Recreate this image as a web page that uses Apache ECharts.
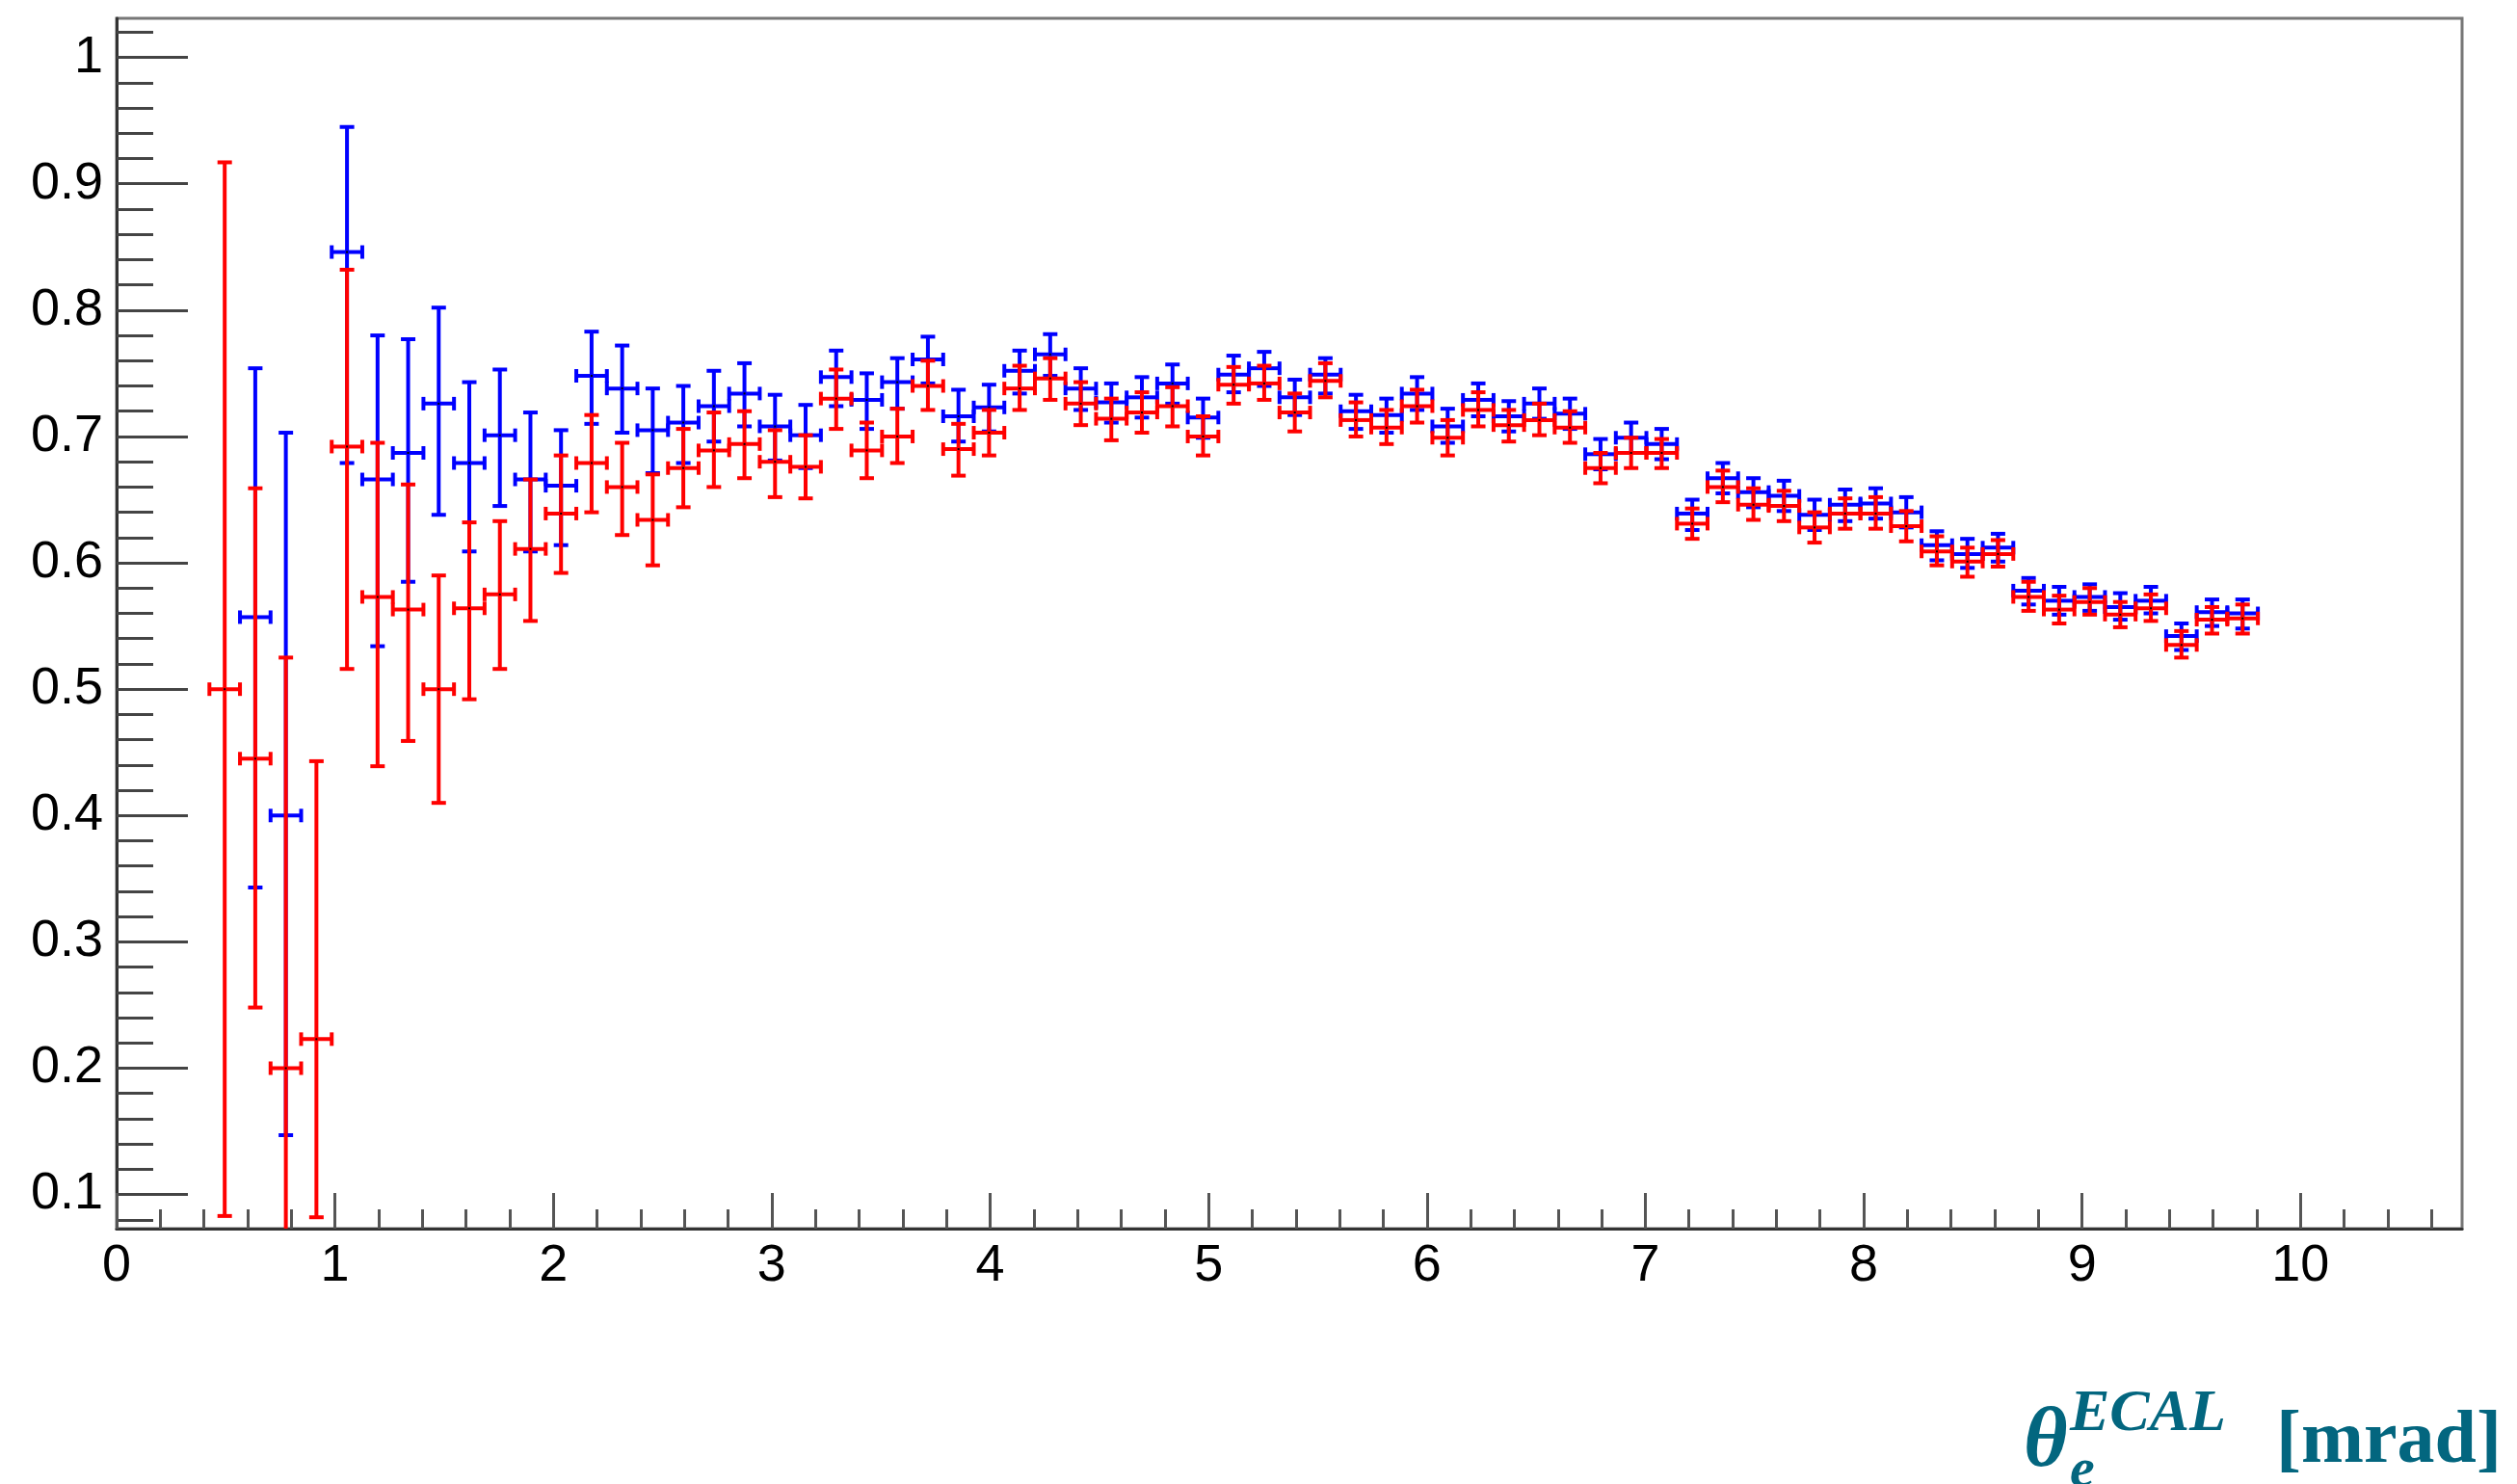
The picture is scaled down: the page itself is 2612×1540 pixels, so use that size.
<!DOCTYPE html>
<html lang="en">
<head>
    <meta charset="UTF-8">
    <title>theta_e ECAL</title>
    <script type="text/javascript" src="https://cdn.jsdelivr.net/npm/echarts@6.0.0/dist/echarts.min.js"></script>
    <style>
        html, body { margin: 0; padding: 0; background: #fff; }
        #chart { width: 2612px; height: 1540px; }
    </style>
</head>
<body>
<div id="chart"></div>
<script type="text/javascript">
    // bin centres [mrad]
    var thetaBins = [
        0.495, 0.635, 0.775, 0.915, 1.055, 1.195, 1.335, 1.475, 1.615, 1.755,
        1.895, 2.035, 2.175, 2.315, 2.455, 2.595, 2.735, 2.875, 3.015, 3.155,
        3.295, 3.435, 3.575, 3.715, 3.855, 3.995, 4.135, 4.275, 4.415, 4.555,
        4.695, 4.835, 4.975, 5.115, 5.255, 5.395, 5.535, 5.675, 5.815, 5.955,
        6.095, 6.235, 6.375, 6.515, 6.655, 6.795, 6.935, 7.075, 7.215, 7.355,
        7.495, 7.635, 7.775, 7.915, 8.055, 8.195, 8.335, 8.475, 8.615, 8.755,
        8.895, 9.035, 9.175, 9.315, 9.455, 9.595, 9.735
    ];
    var binHalfWidth = 0.07;

    // blue
    var blueVal = [
        null, 0.557, 0.400, null, 0.846, 0.666, 0.687, 0.726, 0.679, 0.701,
        0.666, 0.661, 0.748, 0.738, 0.705, 0.711, 0.724, 0.734, 0.708, 0.701,
        0.747, 0.729, 0.743, 0.761, 0.716, 0.723, 0.752, 0.765, 0.738, 0.727,
        0.731, 0.742, 0.715, 0.749, 0.754, 0.731, 0.749, 0.720, 0.717, 0.734,
        0.708, 0.729, 0.716, 0.726, 0.718, 0.686, 0.699, 0.694, 0.639, 0.667,
        0.656, 0.653, 0.638, 0.646, 0.647, 0.640, 0.614, 0.607, 0.612, 0.578,
        0.570, 0.573, 0.565, 0.570, 0.542, 0.561, 0.560
    ];
    var blueErrUp = [
        null, 0.197, 0.303, null, 0.099, 0.114, 0.090, 0.076, 0.064, 0.052,
        0.053, 0.044, 0.035, 0.034, 0.033, 0.029, 0.028, 0.024, 0.025, 0.024,
        0.021, 0.021, 0.019, 0.018, 0.021, 0.018, 0.016, 0.016, 0.016, 0.015,
        0.016, 0.015, 0.015, 0.015, 0.013, 0.014, 0.013, 0.013, 0.013, 0.013,
        0.014, 0.013, 0.012, 0.012, 0.012, 0.012, 0.012, 0.012, 0.011, 0.012,
        0.011, 0.012, 0.012, 0.012, 0.012, 0.012, 0.011, 0.012, 0.011, 0.010,
        0.011, 0.010, 0.011, 0.011, 0.010, 0.010, 0.011
    ];
    var blueErrDown = [
        null, 0.214, 0.253, null, 0.167, 0.132, 0.102, 0.088, 0.070, 0.056,
        0.057, 0.047, 0.038, 0.035, 0.034, 0.032, 0.028, 0.026, 0.027, 0.026,
        0.023, 0.023, 0.021, 0.019, 0.020, 0.019, 0.018, 0.017, 0.017, 0.016,
        0.016, 0.016, 0.016, 0.014, 0.014, 0.014, 0.015, 0.014, 0.014, 0.013,
        0.013, 0.013, 0.012, 0.012, 0.012, 0.012, 0.012, 0.012, 0.013, 0.012,
        0.012, 0.012, 0.012, 0.013, 0.012, 0.012, 0.012, 0.011, 0.011, 0.011,
        0.011, 0.011, 0.010, 0.010, 0.011, 0.011, 0.012
    ];

    // red
    var redVal = [
        0.500, 0.445, 0.200, 0.223, 0.692, 0.573, 0.563, 0.500, 0.564, 0.575,
        0.611, 0.639, 0.679, 0.660, 0.634, 0.675, 0.689, 0.694, 0.680, 0.676,
        0.730, 0.689, 0.700, 0.740, 0.690, 0.703, 0.738, 0.746, 0.726, 0.714,
        0.719, 0.724, 0.700, 0.741, 0.742, 0.719, 0.744, 0.713, 0.707, 0.724,
        0.699, 0.721, 0.709, 0.713, 0.707, 0.675, 0.687, 0.687, 0.631, 0.660,
        0.646, 0.645, 0.628, 0.639, 0.639, 0.629, 0.609, 0.601, 0.607, 0.573,
        0.563, 0.569, 0.559, 0.564, 0.535, 0.555, 0.556
    ];
    var redErrUp = [
        0.417, 0.214, 0.325, 0.220, 0.140, 0.122, 0.099, 0.090, 0.068, 0.058,
        0.055, 0.046, 0.038, 0.035, 0.036, 0.031, 0.030, 0.026, 0.025, 0.025,
        0.023, 0.022, 0.022, 0.020, 0.020, 0.018, 0.018, 0.016, 0.017, 0.016,
        0.016, 0.015, 0.016, 0.014, 0.014, 0.015, 0.014, 0.014, 0.014, 0.013,
        0.014, 0.014, 0.012, 0.013, 0.013, 0.012, 0.012, 0.011, 0.012, 0.013,
        0.013, 0.012, 0.012, 0.012, 0.013, 0.012, 0.012, 0.011, 0.011, 0.012,
        0.011, 0.011, 0.010, 0.011, 0.011, 0.010, 0.011
    ];
    var redErrDown = [
        0.417, 0.197, 0.170, 0.141, 0.176, 0.134, 0.104, 0.090, 0.072, 0.059,
        0.057, 0.047, 0.039, 0.038, 0.036, 0.031, 0.029, 0.027, 0.028, 0.025,
        0.024, 0.022, 0.021, 0.019, 0.021, 0.018, 0.017, 0.017, 0.017, 0.017,
        0.016, 0.016, 0.015, 0.015, 0.013, 0.015, 0.013, 0.013, 0.013, 0.013,
        0.014, 0.013, 0.013, 0.012, 0.012, 0.012, 0.012, 0.012, 0.012, 0.012,
        0.012, 0.012, 0.012, 0.012, 0.012, 0.012, 0.011, 0.012, 0.010, 0.011,
        0.011, 0.010, 0.010, 0.010, 0.010, 0.011, 0.012
    ];

    // axes
    var xMin = 0, xMax = 10.74;
    var yMin = 0.073, yMax = 1.031;
    var xMajorTicks = [0, 1, 2, 3, 4, 5, 6, 7, 8, 9, 10];
    var yMajorTicks = [0.1, 0.2, 0.3, 0.4, 0.5, 0.6, 0.7, 0.8, 0.9, 1];

    var xMinorTicks = [];
    for (var i = 1; i <= 53; i++) {
        if (i % 5 !== 0) xMinorTicks.push(Math.round(i * 20) / 100);
    }
    var yMinorTicks = [];
    for (var j = 4; j <= 51; j++) {
        if (j % 5 !== 0) yMinorTicks.push(Math.round(j * 2) / 100);
    }

    function buildPoints(vals, up, down) {
        var out = [];
        for (var k = 0; k < thetaBins.length; k++) {
            if (vals[k] === null) continue;
            out.push([thetaBins[k], vals[k], vals[k] - down[k], vals[k] + up[k]]);
        }
        return out;
    }

    function errorBars(color) {
        return function (params, api) {
            var x = api.value(0), y = api.value(1), lo = api.value(2), hi = api.value(3);
            var c = api.coord([x, y]);
            var top = api.coord([x, Math.min(hi, yMax)]);
            var bot = api.coord([x, Math.max(lo, yMin)]);
            var l = api.coord([x - binHalfWidth, y]);
            var r = api.coord([x + binHalfWidth, y]);
            var st = {stroke: color, lineWidth: 4};
            var capW = 7.5, capH = 7;
            var kids = [
                {type: 'line', shape: {x1: c[0], y1: top[1], x2: c[0], y2: bot[1]}, style: st},
                {type: 'line', shape: {x1: l[0], y1: c[1], x2: r[0], y2: c[1]}, style: st},
                {type: 'line', shape: {x1: l[0], y1: c[1] - capH, x2: l[0], y2: c[1] + capH}, style: st},
                {type: 'line', shape: {x1: r[0], y1: c[1] - capH, x2: r[0], y2: c[1] + capH}, style: st}
            ];
            if (hi <= yMax) {
                kids.push({type: 'line', shape: {x1: c[0] - capW, y1: top[1], x2: c[0] + capW, y2: top[1]}, style: st});
            }
            if (lo >= yMin) {
                kids.push({type: 'line', shape: {x1: c[0] - capW, y1: bot[1], x2: c[0] + capW, y2: bot[1]}, style: st});
            }
            kids.push({type: 'rect', shape: {x: c[0] - 1, y: c[1] - 1, width: 2, height: 2}, style: {fill: '#000'}});
            return {type: 'group', children: kids};
        };
    }

    var teal = '#03667f';
    var chart = echarts.init(document.getElementById('chart'), null, {renderer: 'canvas'});
    var option = {
        animation: false,
        backgroundColor: '#ffffff',
        grid: {
            left: 121, right: 57, top: 19, bottom: 265,
            show: true, borderColor: '#777777', borderWidth: 3
        },
        xAxis: [{
            type: 'value', min: xMin, max: xMax, position: 'bottom',
            axisLine: {show: true, lineStyle: {color: '#333333', width: 3}},
            axisTick: {show: true, inside: true, length: 37, customValues: xMajorTicks,
                lineStyle: {color: '#555555', width: 3}},
            axisLabel: {show: true, customValues: xMajorTicks, margin: 12,
                fontFamily: 'Liberation Sans', fontSize: 54, color: '#000',
                formatter: function (v) { return String(Math.round(v)); }},
            splitLine: {show: false}
        }, {
            type: 'value', min: xMin, max: xMax, position: 'bottom',
            axisLine: {show: false},
            axisTick: {show: true, inside: true, length: 20, customValues: xMinorTicks,
                lineStyle: {color: '#555555', width: 3}},
            axisLabel: {show: false},
            splitLine: {show: false}
        }],
        yAxis: [{
            type: 'value', min: yMin, max: yMax, position: 'left',
            axisLine: {show: true, lineStyle: {color: '#333333', width: 3}},
            axisTick: {show: true, inside: true, length: 74, customValues: yMajorTicks,
                lineStyle: {color: '#444444', width: 3}},
            axisLabel: {show: true, customValues: yMajorTicks, margin: 14,
                fontFamily: 'Liberation Sans', fontSize: 54, color: '#000',
                formatter: function (v) { return String(Math.round(v * 10) / 10); }},
            splitLine: {show: false}
        }, {
            type: 'value', min: yMin, max: yMax, position: 'left',
            axisLine: {show: false},
            axisTick: {show: true, inside: true, length: 38, customValues: yMinorTicks,
                lineStyle: {color: '#444444', width: 3}},
            axisLabel: {show: false},
            splitLine: {show: false}
        }],
        series: [{
            name: 'blue', type: 'custom', xAxisIndex: 0, yAxisIndex: 0,
            renderItem: errorBars('#0000ff'),
            data: buildPoints(blueVal, blueErrUp, blueErrDown),
            silent: true, z: 2
        }, {
            name: 'red', type: 'custom', xAxisIndex: 0, yAxisIndex: 0,
            renderItem: errorBars('#ff0000'),
            data: buildPoints(redVal, redErrUp, redErrDown),
            silent: true, z: 3
        }],
        graphic: [
            {type: 'text', x: 2100, y: 1498, style: {text: 'θ', fill: teal,
                font: 'italic bold 88px "Liberation Serif"', verticalAlign: 'middle'}},
            {type: 'text', x: 2148, y: 1468, style: {text: 'ECAL', fill: teal,
                font: 'italic bold 62px "Liberation Serif"', verticalAlign: 'middle'}},
            {type: 'text', x: 2148, y: 1527, style: {text: 'e', fill: teal,
                font: 'italic bold 58px "Liberation Serif"', verticalAlign: 'middle'}},
            {type: 'text', x: 2362, y: 1497, style: {text: '[mrad]', fill: teal,
                font: 'bold 78px "Liberation Serif"', verticalAlign: 'middle'}}
        ]
    };
    chart.setOption(option);
</script>
</body>
</html>
